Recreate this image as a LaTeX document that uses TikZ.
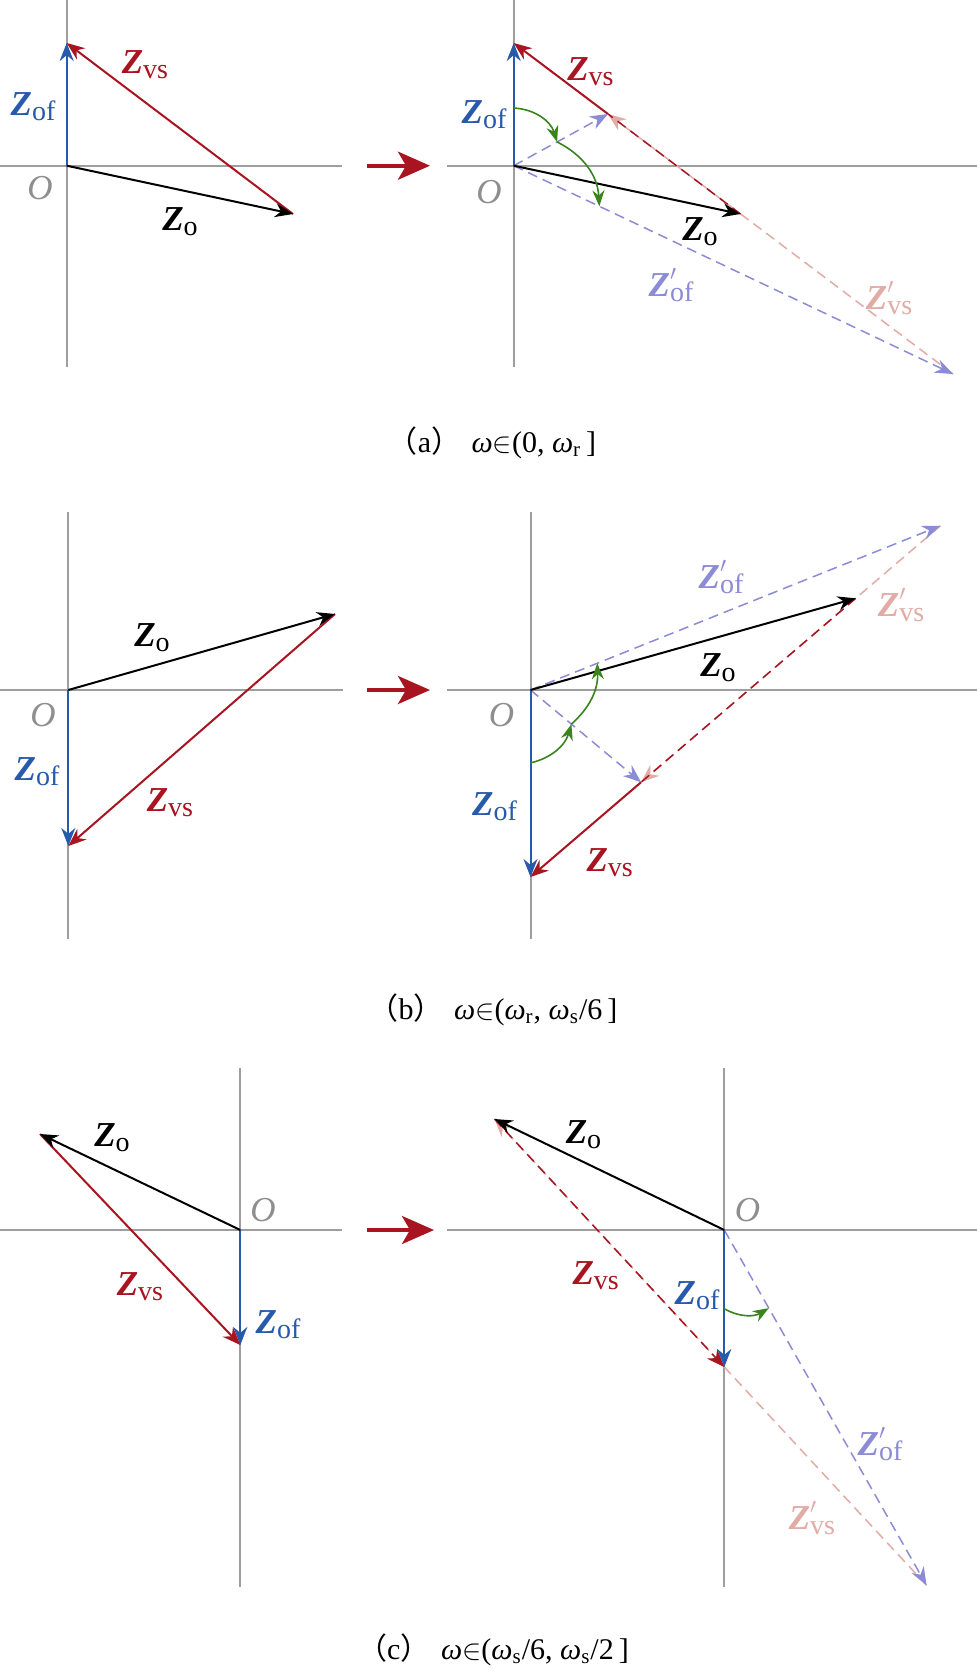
\documentclass[tikz,border=0pt]{standalone}
\usepackage{fontspec}
\setmainfont{Liberation Serif}
\newfontfamily\cjkfont{Noto Sans CJK SC}
\usepackage{tikz}
\usetikzlibrary{arrows.meta,calc}

\definecolor{vsred}{RGB}{168,20,32}
\definecolor{ofblue}{RGB}{40,90,172}
\definecolor{oflav}{RGB}{140,140,214}
\definecolor{vspink}{RGB}{226,172,166}
\definecolor{rotgreen}{RGB}{58,132,30}
\definecolor{axgray}{RGB}{158,158,158}

\newcommand{\zvec}[1]{{\bfseries\itshape Z}\raisebox{-0.3ex}{\fontsize{14}{14}\selectfont #1}}
\newcommand{\zvecp}[1]{{\bfseries\itshape Z}\rlap{\raisebox{1.0ex}{\fontsize{11}{11}\selectfont$\prime$}}\raisebox{-0.3ex}{\fontsize{14}{14}\selectfont #1}}
\newcommand{\om}{\textit{ω}}

\tikzset{
  axis/.style={draw=axgray,line width=1pt},
  vec/.style={line width=1pt,-{Stealth[length=9pt,width=7pt]}},
  dvec/.style={line width=0.75pt,dash pattern=on 5pt off 3pt,-{Stealth[length=9pt,width=7pt]}},
  rot/.style={rotgreen,line width=0.8pt,-{Stealth[length=8pt,width=6pt]}},
  bigarrow/.style={vsred,line width=2pt,-{Stealth[length=16pt,width=14pt,inset=4pt]}},
  lab/.style={font=\fontsize{17.5}{20}\selectfont,inner sep=0pt},
  olab/.style={text=axgray!90!black,font=\fontsize{17.5}{20}\selectfont\itshape,inner sep=0pt},
  captext/.style={font=\fontsize{15}{17}\selectfont,inner sep=0pt}
}

\begin{document}
\begin{tikzpicture}[x=0.5pt,y=-0.5pt]
\fill[white] (0,0) rectangle (977,1671);
\useasboundingbox (0,0) rectangle (977,1671);

% (a)
\draw[axis] (66.7,0) -- (66.7,367);
\draw[axis] (0,165.7) -- (342,165.7);
\draw[axis] (513.7,0) -- (513.7,367);
\draw[axis] (447,165.7) -- (977,165.7);
\draw[bigarrow] (367,165.7) -- (430,165.7);

\coordinate (O1) at (66.7,165.7);
\coordinate (F1) at (66.7,43);
\coordinate (Z1) at (293,214);
\draw[vec,ofblue] (O1) -- (F1);
\draw[vec,vsred] (Z1) -- (F1);
\draw[vec] (O1) -- (Z1);
\node[lab,text=vsred] (vs1) at (145,65) {\zvec{vs}};
\node[lab,text=ofblue] (of1) at (33,107) {\zvec{of}};
\node[olab] (o1) at (40,188) {O};
\node[lab] (zo1) at (180,222) {\zvec{o}};

\coordinate (O2) at (513.7,165.7);
\coordinate (F2) at (513.7,43);
\coordinate (Z2) at (740.5,214);
\coordinate (P2) at (608,114);
\coordinate (Q2) at (953,374);
\draw[dvec,vspink] (Q2) -- (P2);
\draw[dvec,vsred,-] (Z2) -- (P2);
\draw[vec,vsred] (P2) -- (F2);
\draw[dvec,oflav] (O2) -- (P2);
\draw[dvec,oflav] (O2) -- (Q2);
\draw[vec,ofblue] (O2) -- (F2);
\draw[vec] (O2) -- (Z2);
\draw[rot] ($(O2)!0.47!(F2)$) to[bend left=35] ($(O2)!0.46!(P2)$);
\draw[rot] ($(O2)!0.46!(P2)$) to[bend left=30] ($(O2)!0.195!(Q2)$);
\node[lab,text=vsred] (vs2) at (590.5,72) {\zvec{vs}};
\node[lab,text=ofblue] (of2) at (484,115) {\zvec{of}};
\node[olab] (o2) at (489,192) {O};
\node[lab] (zo2) at (700,232) {\zvec{o}};
\node[lab,text=oflav] (ofp2) at (671,285) {\zvecp{of}};
\node[lab,text=vspink] (vsp2) at (889,298) {\zvecp{vs}};

\node[captext] (capa) at (492,443) {{\cjkfont （}a{\cjkfont ）}\hspace{0.35em}\om$\in$(0,\ \om\textsubscript{r}\,]};

% (b)
\draw[axis] (68.3,512) -- (68.3,939);
\draw[axis] (0,690) -- (343,690);
\draw[axis] (530.5,512) -- (530.5,939);
\draw[axis] (447,690) -- (977,690);
\draw[bigarrow] (367,690) -- (430,690);

\coordinate (O3) at (68.3,690);
\coordinate (F3) at (68.3,846);
\coordinate (Z3) at (335,614);
\draw[vec,ofblue] (O3) -- (F3);
\draw[vec,vsred] (Z3) -- (F3);
\draw[vec] (O3) -- (Z3);
\node[lab] (zo3) at (152,638) {\zvec{o}};
\node[olab] (o3) at (43,715) {O};
\node[lab,text=ofblue] (of3) at (37,772) {\zvec{of}};
\node[lab,text=vsred] (vs3) at (170,803) {\zvec{vs}};

\coordinate (O4) at (530.5,690);
\coordinate (F4) at (530.5,877);
\coordinate (Z4) at (855.7,598.3);
\coordinate (P4) at (641.1,782.2);
\coordinate (Q4) at (940.3,525.8);
\draw[dvec,vspink] (Q4) -- (P4);
\draw[dvec,vsred,-] (Z4) -- (P4);
\draw[vec,vsred] (P4) -- (F4);
\draw[dvec,oflav] (O4) -- (P4);
\draw[dvec,oflav] (O4) -- (Q4);
\draw[vec,ofblue] (O4) -- (F4);
\draw[vec] (O4) -- (Z4);
\draw[rot] ($(O4)!0.39!(F4)$) to[bend right=30] ($(O4)!0.37!(P4)$);
\draw[rot] ($(O4)!0.37!(P4)$) to[bend right=25] ($(O4)!0.163!(Q4)$);
\node[lab,text=oflav] (ofp4) at (721,577) {\zvecp{of}};
\node[lab,text=vspink] (vsp4) at (901,605) {\zvecp{vs}};
\node[lab] (zo4) at (718,668) {\zvec{o}};
\node[olab] (o4) at (501.5,715) {O};
\node[lab,text=ofblue] (of4) at (494.5,807) {\zvec{of}};
\node[lab,text=vsred] (vs4) at (609.7,863) {\zvec{vs}};

\node[captext] (capb) at (493,1010) {{\cjkfont （}b{\cjkfont ）}\hspace{0.35em}\om$\in$(\om\textsubscript{r},\ \om\textsubscript{s}/6\,]};

% (c)
\draw[axis] (240.3,1068) -- (240.3,1587);
\draw[axis] (0,1230) -- (342,1230);
\draw[axis] (724.3,1068) -- (724.3,1587);
\draw[axis] (447,1230) -- (977,1230);
\draw[bigarrow] (367,1230) -- (434,1230);

\coordinate (O5) at (240.3,1230);
\coordinate (F5) at (240.3,1345);
\coordinate (Z5) at (40,1134);
\draw[vec,ofblue] (O5) -- (F5);
\draw[vec,vsred] (Z5) -- (F5);
\draw[vec] (O5) -- (Z5);
\node[lab] (zo5) at (112,1138) {\zvec{o}};
\node[olab] (o5) at (263,1210) {O};
\node[lab,text=vsred] (vs5) at (140,1287) {\zvec{vs}};
\node[lab,text=ofblue] (of5) at (278,1325) {\zvec{of}};

\coordinate (O6) at (724.3,1230);
\coordinate (F6) at (724.3,1367);
\coordinate (Z6) at (494.5,1119);
\coordinate (Q6) at ($(Z6)!1.88!(F6)$);
\draw[dvec,vspink] (Q6) -- (Z6);
\draw[dvec,vsred] (Z6) -- (F6);
\draw[dvec,oflav] (O6) -- (Q6);
\draw[vec,ofblue] (O6) -- (F6);
\draw[vec] (O6) -- (Z6);
\draw[rot] ($(O6)!0.575!(F6)$) to[bend right=30] ($(O6)!0.22!(Q6)$);
\node[lab] (zo6) at (583.5,1135) {\zvec{o}};
\node[olab] (o6) at (747.5,1210) {O};
\node[lab,text=vsred] (vs6) at (595.7,1276) {\zvec{vs}};
\node[lab,text=ofblue] (of6) at (697,1296) {\zvec{of}};
\node[lab,text=oflav] (ofp6) at (880,1444) {\zvecp{of}};
\node[lab,text=vspink] (vsp6) at (812,1518) {\zvecp{vs}};

\node[captext] (capc) at (493,1650) {{\cjkfont （}c{\cjkfont ）}\hspace{0.35em}\om$\in$(\om\textsubscript{s}/6,\ \om\textsubscript{s}/2\,]};
\end{tikzpicture}
\end{document}
